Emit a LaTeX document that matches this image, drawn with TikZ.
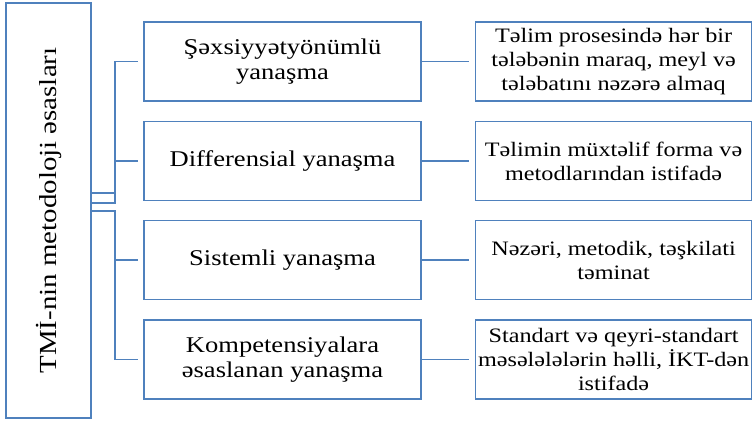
\documentclass[tikz,border=0pt]{standalone}
\usepackage{fontspec}
\setmainfont[FakeStretch=1.18]{Liberation Serif}
\usepackage{tikz}
\usetikzlibrary{positioning}

\definecolor{boxblue}{HTML}{4F81BD}

\begin{document}
\begin{tikzpicture}[x=1pt,y=-1pt,
  box/.style={draw=boxblue, line width=1.6pt, align=center, inner sep=2pt},
  midbox/.style={box, minimum width=277pt, minimum height=79pt,
    font=\fontsize{22.5}{25}\selectfont},
  infobox/.style={box, minimum width=276pt, minimum height=79pt,
    font=\fontsize{20.5}{24}\selectfont},
  link/.style={draw=boxblue, line width=1.5pt}]
  \useasboundingbox (0,0) rectangle (752,422);

  % left column
  \node[box, rotate=90, minimum width=415pt, minimum height=85pt,
    font=\fontsize{24.5}{28}\selectfont] (root) at (48.5,210.5)
    {TMİ-nin metodoloji əsasları};

  % approaches
  \node[midbox] (m1) at (282.5,61.5) {Şəxsiyyətyönümlü\\yanaşma};
  \node[midbox] (m2) at (282.5,161) {Differensial yanaşma};
  \node[midbox] (m3) at (282.5,260) {Sistemli yanaşma};
  \node[midbox] (m4) at (282.5,359.5) {Kompetensiyalara\\əsaslanan yanaşma};

  % what each gives
  \node[infobox, right=53pt of m1] (r1)
    {Təlim prosesində hər bir\\tələbənin maraq, meyl və\\tələbatını nəzərə almaq};
  \node[infobox, right=53pt of m2] (r2)
    {Təlimin müxtəlif forma və\\metodlarından istifadə};
  \node[infobox, right=53pt of m3] (r3)
    {Nəzəri, metodik, təşkilati\\təminat};
  \node[infobox, right=53pt of m4] (r4)
    {Standart və qeyri-standart\\məsələlələrin həlli, İKT-dən\\istifadə};

  % tree from the left box
  \draw[link, shorten >=5pt] (root.south |- 0,193) -- (115,193) |- (m1.west);
  \draw[link, shorten >=5pt] (root.south |- 0,203) -- (115,203) |- (m2.west);
  \draw[link, shorten >=5pt] (root.south |- 0,211) -- (115,211) |- (m3.west);
  \draw[link, shorten >=5pt] (root.south |- 0,211) -- (115,211) |- (m4.west);

  \foreach \i in {1,...,4}
    \draw[link, shorten >=6pt] (m\i.east) -- (r\i.west);
\end{tikzpicture}
\end{document}
